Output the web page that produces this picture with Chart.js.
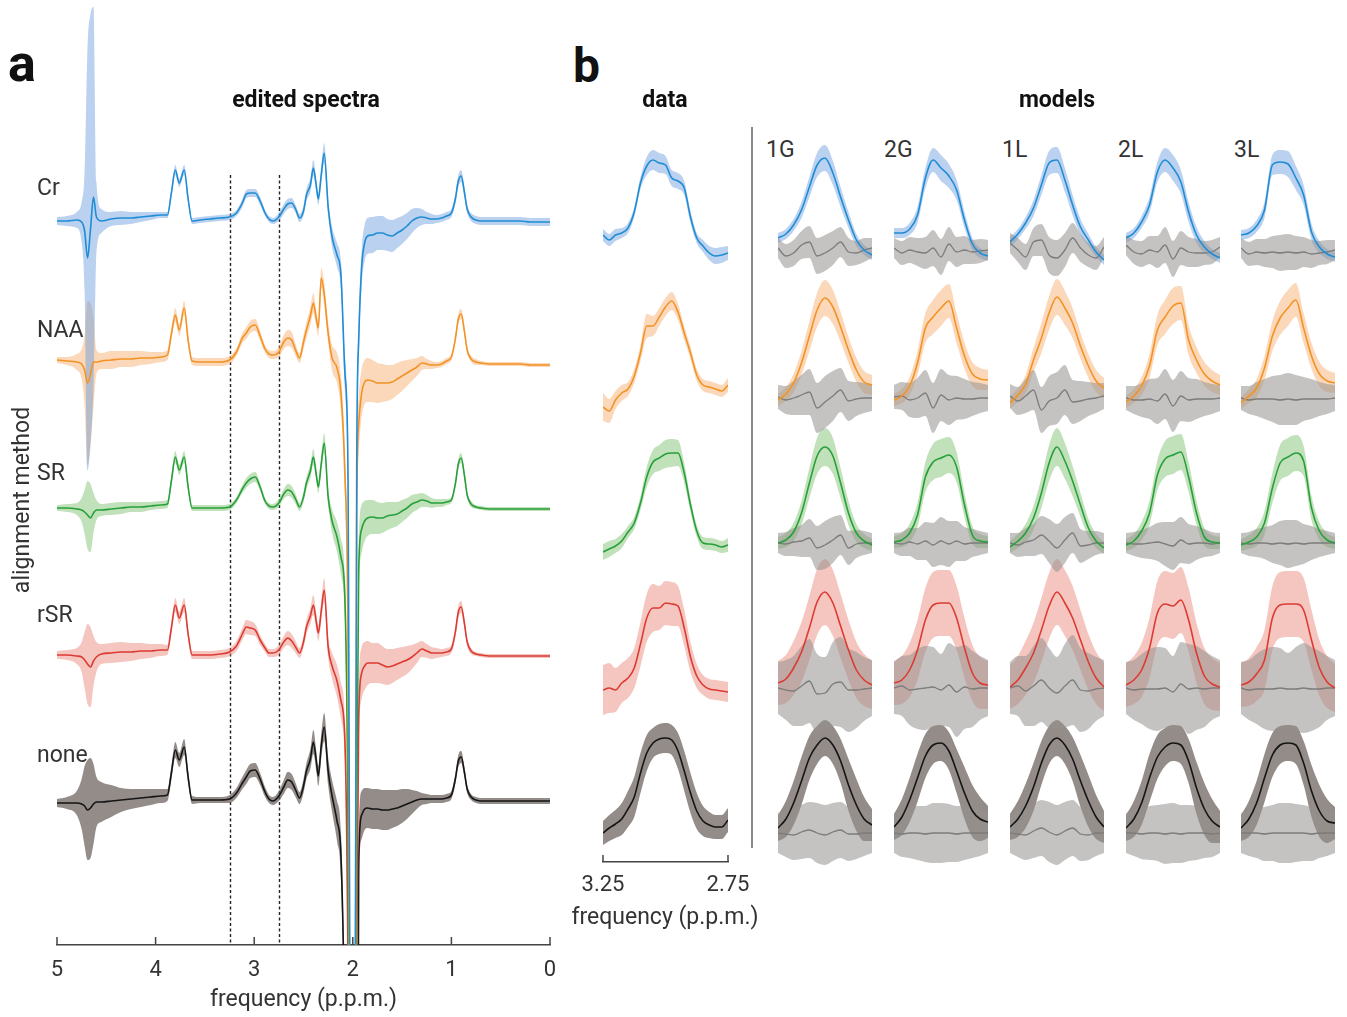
<!DOCTYPE html>
<html>
<head>
<meta charset="utf-8">
<title>edited spectra / models</title>
<script src="https://cdn.jsdelivr.net/npm/chart.js@4.4.1/dist/chart.umd.min.js"></script>
<style>
  body { margin: 0; background: #fff; font-family: Roboto, 'Noto Sans', sans-serif; color: #333; }
  #page { position: relative; width: 1347px; height: 1017px; overflow: hidden; background: #fff; }
  canvas { position: absolute; }
  .txt { position: absolute; white-space: nowrap; line-height: 1; }
  .panel { font-weight: 700; color: #111; }
  .head { font-weight: 700; font-size: 23px; color: #111; }
  .lab { font-size: 23px; color: #333; }
  .ctr { transform: translateX(-50%); }
  #sep { position: absolute; left: 751px; top: 127px; width: 2px; height: 721px; background: #8a8a8a; }
</style>
</head>
<body>
<div id="page">
  <canvas id="spectra" width="570" height="1017" style="left:0;top:0"></canvas>
  <canvas id="col-data" width="210" height="830" style="left:553px;top:110px"></canvas>
  <div id="sep"></div>

  <div class="txt panel" style="left:8px;top:38px;font-size:52px">a</div>
  <div class="txt panel" style="left:573px;top:42px;font-size:48px">b</div>
  <div class="txt head ctr" style="left:306px;top:88px">edited spectra</div>
  <div class="txt head ctr" style="left:665px;top:88px">data</div>
  <div class="txt head ctr" style="left:1057px;top:88px">models</div>
  <div class="txt lab" style="left:21px;top:500px;transform:translate(-50%,-50%) rotate(-90deg)">alignment method</div>
  <div class="txt lab ctr" style="left:665px;top:905px">frequency (p.p.m.)</div>
  <div id="rowLabels"></div>
  <div id="modelLabels"></div>
</div>

<script>
// ========== DATA: panel a (full edited spectra) ==========

const SERIES = ['Cr', 'NAA', 'SR', 'rSR', 'none'];
const MODELS = ['1G', '2G', '1L', '2L', '3L'];

// frequency grid, p.p.m.
const A_PPM = [
  5.0, 4.9, 4.8, 4.75, 4.72, 4.69, 4.66, 4.63, 4.6, 4.55,
  4.45, 4.35, 4.25, 4.15, 4.05, 3.95, 3.88, 3.84, 3.80, 3.76, 3.71, 3.67, 3.63,
  3.55, 3.45, 3.35, 3.25, 3.18, 3.12, 3.08, 3.04, 2.99, 2.94, 2.89, 2.85, 2.81,
  2.75, 2.70, 2.66, 2.62, 2.58, 2.54, 2.50, 2.47, 2.43, 2.40, 2.37, 2.35, 2.32, 2.29, 2.25, 2.21, 2.16, 2.12,
  2.08, 2.05, 2.02, 1.98, 1.96, 1.94, 1.91, 1.88, 1.85,
  1.80, 1.75, 1.70, 1.65, 1.60, 1.55, 1.50, 1.45, 1.40, 1.35, 1.30, 1.25, 1.20, 1.15, 1.10, 1.05, 1.00,
  0.96, 0.93, 0.90, 0.87, 0.84, 0.80, 0.75, 0.70, 0.60, 0.50, 0.40, 0.30, 0.20, 0.10, 0.00
];

// mean spectrum per alignment method (a.u., 0 = own baseline)
const SPEC_CR = [
  0, 0, 1, -1, -10, -37, -8, 24, 4, 0,
  2, 3, 3, 4, 5, 6, 6, 28, 51, 38, 51, 22, 0,
  1, 2, 3, 4, 8, 18, 27, 28, 28, 20, 8, 2, 0,
  4, 12, 17, 18, 12, 3, 10, 26, 36, 53, 35, 22, 46, 68, 14, -16, -34, -54,
  -152, -239, -900, -900, -239, -119, -46, -22, -15,
  -14, -12, -12, -14, -15, -12, -9, -5, 0, 3, 4, 3, 2, 2, 3, 5, 8,
  22, 40, 45, 30, 12, 4, 1, 0, 0, 0, 0, 0, -1, -1, -1
];
const SPEC_NAA = [
  4, 3, 2, 0, -6, -19, -10, 2, 2, 3,
  4, 5, 5, 6, 6, 7, 9, 30, 49, 34, 56, 24, 3,
  2, 2, 2, 4, 12, 26, 31, 37, 39, 28, 15, 10, 9,
  12, 22, 26, 24, 14, 6, 22, 34, 48, 61, 45, 36, 86, 70, 31, 6, -4, -29,
  -110, -260, -900, -900, -150, -60, -29, -18, -16,
  -17, -19, -19, -19, -18, -15, -12, -9, -6, -3, 1, 0, -1, -1, 0, 3, 7,
  25, 45, 50, 34, 14, 5, 2, 1, 0, 0, 0, 0, -1, -1, -1
];
const SPEC_SR = [
  1, 1, 0, -1, -3, -6, -9, -4, -1, -1,
  0, 1, 2, 2, 3, 4, 5, 28, 52, 39, 52, 22, 1,
  1, 1, 1, 2, 9, 20, 26, 30, 32, 22, 8, 3, 2,
  6, 15, 19, 17, 10, 2, 12, 26, 38, 52, 34, 22, 45, 66, 12, -12, -28, -48,
  -90, -300, -900, -900, -300, -60, -20, -12, -9,
  -8, -9, -9, -7, -6, -5, -2, 1, 5, 7, 9, 8, 6, 6, 6, 7, 9,
  25, 45, 51, 35, 14, 5, 2, 1, 0, 0, 0, 0, 0, 0, 0
];
const SPEC_RSR = [
  1, 1, 0, -1, -4, -8, -11, -5, -1, 2,
  3, 4, 4, 5, 5, 6, 6, 28, 51, 38, 51, 22, 1,
  1, 1, 2, 4, 10, 22, 29, 28, 26, 16, 8, 3, 3,
  6, 14, 18, 15, 9, 3, 14, 29, 40, 51, 34, 23, 45, 66, 9, -10, -25, -45,
  -85, -300, -900, -900, -300, -60, -17, -10, -7,
  -7, -7, -9, -11, -10, -8, -6, -4, -1, 3, 7, 5, 3, 3, 3, 4, 7,
  24, 44, 49, 34, 14, 5, 2, 1, 0, 0, 0, 0, 0, 0, 0
];
const SPEC_NONE = [
  -2, -2, -2, -3, -5, -9, -7, -3, -1, -1,
  0, 1, 2, 3, 4, 5, 6, 28, 51, 41, 54, 24, 1,
  1, 1, 1, 2, 8, 18, 24, 30, 31, 22, 9, 2, 0,
  5, 14, 21, 19, 11, 3, 15, 30, 42, 59, 40, 25, 55, 74, 30, 5, -20, -55,
  -250, -600, -900, -900, -700, -60, -14, -8, -7,
  -8, -8, -9, -9, -8, -7, -5, -3, -1, 1, 2, 2, 2, 2, 2, 3, 6,
  22, 40, 44, 30, 12, 4, 1, 0, 0, 0, 0, 0, 0, 0, 0
];

// half-width of the shaded spread
const SPREAD_CR = [
  4, 5, 8, 20, 60, 212, 215, 190, 35, 12,
  7, 7, 6, 5, 4, 3, 3, 4, 5, 4, 5, 4, 3,
  3, 3, 3, 3, 3, 4, 4, 4, 4, 4, 3, 3, 3,
  4, 5, 5, 5, 4, 4, 5, 6, 7, 8, 6, 6, 8, 10, 8, 10, 12, 14,
  18, 25, 30, 30, 25, 20, 18, 18, 18,
  18, 17, 17, 16, 16, 15, 14, 13, 12, 10, 8, 6, 5, 4, 4, 4, 4,
  5, 6, 6, 5, 4, 4, 4, 4, 4, 4, 4, 4, 4, 4, 4
];
const SPREAD_NAA = [
  3, 4, 8, 15, 35, 82, 71, 45, 12, 8,
  9, 8, 8, 7, 6, 5, 5, 6, 7, 6, 7, 5, 4,
  4, 4, 4, 4, 4, 5, 6, 6, 6, 5, 4, 4, 4,
  5, 7, 8, 8, 6, 5, 7, 8, 9, 10, 8, 8, 10, 12, 10, 13, 15, 18,
  22, 28, 30, 30, 30, 28, 24, 22, 22,
  21, 20, 19, 18, 17, 16, 15, 13, 11, 9, 7, 5, 4, 3, 3, 3, 3,
  4, 5, 5, 4, 3, 3, 3, 2, 2, 2, 2, 2, 2, 2, 2
];
const SPREAD_SR = [
  3, 4, 6, 12, 22, 34, 34, 20, 10, 6,
  6, 6, 5, 5, 4, 4, 4, 5, 6, 5, 6, 4, 3,
  3, 3, 3, 3, 3, 4, 5, 5, 5, 4, 3, 3, 3,
  4, 5, 6, 6, 5, 4, 5, 6, 7, 8, 6, 6, 8, 10, 8, 12, 15, 18,
  22, 28, 30, 30, 30, 28, 24, 20, 18,
  17, 16, 15, 14, 13, 12, 11, 10, 9, 8, 7, 6, 5, 4, 4, 3, 3,
  4, 5, 5, 4, 3, 3, 2, 2, 2, 2, 2, 2, 2, 2, 2
];
const SPREAD_RSR = [
  4, 5, 8, 15, 28, 40, 40, 25, 15, 10,
  10, 10, 9, 8, 7, 6, 5, 6, 7, 6, 7, 5, 4,
  4, 4, 4, 4, 5, 6, 7, 7, 6, 5, 4, 4, 4,
  5, 6, 7, 7, 6, 5, 6, 7, 8, 10, 8, 8, 10, 12, 10, 13, 16, 18,
  22, 28, 30, 30, 30, 28, 26, 24, 22,
  20, 20, 19, 18, 17, 16, 15, 14, 12, 10, 8, 7, 6, 5, 4, 4, 4,
  5, 6, 6, 5, 4, 3, 2, 2, 2, 2, 2, 2, 2, 2, 2
];
const SPREAD_NONE = [
  4, 6, 12, 25, 40, 50, 50, 40, 25, 20,
  16, 12, 10, 9, 8, 7, 6, 7, 8, 7, 8, 6, 4,
  3, 3, 3, 4, 5, 6, 7, 7, 7, 6, 5, 4, 4,
  5, 7, 8, 8, 7, 6, 7, 8, 10, 12, 10, 10, 12, 14, 14, 16, 20, 24,
  28, 30, 30, 30, 30, 30, 24, 21, 20,
  20, 20, 20, 20, 19, 18, 17, 15, 12, 9, 6, 5, 4, 4, 4, 4, 4,
  5, 6, 6, 5, 4, 3, 3, 3, 3, 3, 3, 3, 3, 3, 3
];

// vertical offset of each stacked spectrum
const A_OFFSET = [724, 581, 436, 289, 144];
const A_TICKS = [0, 1, 2, 3, 4, 5];
const WINDOW_PPM = [3.25, 2.75];
const WINDOW_TOP = 770;

// ========== DATA: panel b (3.25 - 2.75 p.p.m. window) ==========

const DATA_PPM = [3.25, 3.225, 3.2, 3.175, 3.15, 3.125, 3.1, 3.075, 3.05, 3.025, 3.0,
                  2.975, 2.95, 2.925, 2.9, 2.875, 2.85, 2.825, 2.8, 2.775, 2.75];
const MODEL_PPM = [3.25, 3.208, 3.167, 3.125, 3.083, 3.042, 3.0, 2.958, 2.917, 2.875, 2.833, 2.792, 2.75];

const DATA_B_CR   = [15, 10, 15, 17, 22, 38, 67, 84, 90, 87, 85, 72, 69, 62, 33, 12, 4, -3, -6, -5, -3];
const DATA_B_NAA  = [-9, -13, -2, 5, 9, 22, 45, 72, 72, 81, 91, 97, 86, 65, 45, 23, 13, 11, 9, 7, 13];
const DATA_B_SR   = [-9, -6, -3, 2, 11, 20, 40, 66, 81, 85, 89, 90, 90, 70, 38, 12, 0, -1, -2, -4, -2];
const DATA_B_RSR  = [-2, 0, -2, 5, 10, 20, 44, 70, 80, 80, 85, 84, 82, 60, 31, 12, 3, -1, -2, -3, -4];
const DATA_B_NONE = [0, 5, 9, 14, 24, 36, 60, 80, 90, 94, 95, 93, 82, 62, 40, 22, 12, 8, 6, 6, 13];

const DSPREAD_CR   = [6, 6, 6, 5, 5, 5, 6, 9, 10, 10, 9, 8, 8, 7, 6, 5, 6, 7, 8, 8, 7];
const DSPREAD_NAA  = [14, 12, 9, 8, 7, 7, 8, 12, 10, 9, 9, 9, 8, 7, 6, 6, 6, 6, 6, 6, 7];
const DSPREAD_SR   = [8, 8, 7, 7, 6, 6, 7, 10, 12, 13, 14, 14, 13, 10, 7, 6, 6, 6, 6, 6, 7];
const DSPREAD_RSR  = [25, 25, 22, 20, 20, 20, 22, 24, 24, 22, 22, 22, 20, 18, 15, 12, 10, 10, 10, 10, 10];
const DSPREAD_NONE = [12, 13, 14, 16, 18, 20, 20, 18, 15, 15, 15, 15, 18, 20, 20, 18, 15, 13, 12, 12, 12];

// model fits, one list per model (1G, 2G, 1L, 2L, 3L)
const FIT_CR = [
  [12, 16, 25, 40, 63, 85, 92, 77, 53, 30, 10, 0, -5],
  [17, 17, 21, 35, 72, 90, 82, 74, 60, 30, 6, -3, -6],
  [8, 16, 27, 42, 65, 87, 90, 70, 45, 23, 10, -2, -10],
  [12, 17, 28, 45, 78, 90, 82, 68, 38, 15, 3, -4, -8],
  [15, 17, 24, 40, 85, 88, 86, 72, 55, 18, 3, -4, -7]
];
const FIT_NAA = [
  [-2, 4, 15, 35, 62, 88, 100, 91, 71, 48, 28, 16, 13],
  [-2, 2, 12, 35, 70, 81, 90, 97, 70, 42, 24, 19, 18],
  [-5, 3, 14, 38, 60, 85, 101, 90, 75, 52, 32, 17, 10],
  [-4, 2, 12, 32, 68, 81, 92, 95, 58, 38, 24, 17, 13],
  [-5, 2, 10, 30, 62, 80, 90, 98, 70, 42, 24, 17, 15]
];
const FIT_SR = [
  [0, 3, 11, 30, 60, 87, 96, 87, 60, 30, 10, 2, -2],
  [1, 3, 10, 28, 66, 81, 85, 88, 76, 38, 8, 2, 1],
  [-4, 2, 10, 25, 50, 80, 96, 82, 62, 38, 15, 2, -5],
  [-2, 2, 12, 30, 68, 84, 88, 91, 66, 30, 6, 1, 0],
  [-2, 1, 6, 20, 55, 80, 86, 90, 82, 35, 12, 3, 0]
];
const FIT_RSR = [
  [5, 9, 20, 36, 60, 86, 96, 85, 62, 38, 18, 8, 3],
  [5, 8, 18, 38, 68, 83, 85, 85, 70, 40, 15, 5, 3],
  [1, 8, 20, 35, 58, 82, 96, 85, 70, 48, 26, 10, 1],
  [3, 8, 18, 40, 75, 84, 82, 88, 68, 35, 12, 4, 1],
  [3, 6, 14, 28, 70, 83, 84, 84, 78, 48, 20, 6, 0]
];
const FIT_NONE = [
  [5, 14, 30, 52, 75, 88, 95, 88, 72, 48, 28, 14, 8],
  [6, 16, 33, 55, 77, 88, 90, 82, 62, 40, 22, 14, 11],
  [6, 14, 27, 46, 70, 88, 95, 88, 74, 52, 32, 16, 6],
  [5, 14, 30, 55, 76, 86, 90, 88, 72, 45, 24, 12, 6],
  [5, 14, 30, 55, 78, 88, 90, 88, 70, 42, 22, 12, 10]
];

// residuals (data - fit)
const RES_CR = [
  [2, -6, -3, 5, 8, -6, -3, 2, 8, -2, -3, 0, 2],
  [2, -3, 0, -2, -3, 2, -7, 6, -2, 0, -2, -1, 0],
  [7, 0, -7, 8, 10, -5, -8, 0, 12, 2, -5, -8, 3],
  [5, -2, -4, 0, -2, 5, -9, 2, -2, -3, -3, -2, 3],
  [2, -4, -2, -3, -2, -3, -2, -3, -2, -4, -3, -2, 0]
];
const RES_NAA = [
  [1, -2, 0, 3, 6, -10, -4, 2, 8, -3, -1, 0, 0],
  [1, 2, -2, 0, 5, -10, 3, -2, 0, -1, -1, 0, 0],
  [2, -3, 2, 8, -12, -3, 0, 8, -4, -3, -1, 0, 2],
  [0, -2, -2, -1, -3, 4, -8, 2, -2, -1, -1, -1, 0],
  [0, -2, -1, -1, -1, -2, -1, -2, -1, -1, -1, -1, 0]
];
const RES_SR = [
  [0, -1, 1, 2, 5, -5, -2, 3, 8, -5, -1, 0, 0],
  [0, -1, 1, -1, 2, -2, 2, -1, 2, -1, 0, 0, 0],
  [0, -2, 1, 3, 8, 2, -5, 3, 10, -3, -2, 0, 0],
  [0, -1, -1, 0, 1, -1, -3, 3, -1, 0, 0, -1, 0],
  [0, -1, 0, 0, -1, 0, -1, 0, -1, 0, 0, 0, 0]
];
const RES_RSR = [
  [0, -2, -3, 2, 7, -6, -5, 4, 6, -2, -2, -1, 0],
  [0, 2, -2, -1, 0, 1, -2, 3, -4, 1, -1, 0, 0],
  [0, 2, -3, 2, 8, 0, -5, 2, 8, -2, -3, -1, 0],
  [0, -2, -1, -1, -1, 0, -4, 4, -1, 0, -1, 0, 0],
  [0, -2, -1, -1, -1, 0, -1, -1, 0, -1, -1, 0, 0]
];
const RES_NONE = [
  [0, -1, -2, 1, 3, 0, -2, 1, 3, -1, -1, 0, 0],
  [0, -1, 0, 0, -1, 0, 0, 0, -1, 0, 0, 0, 0],
  [0, -1, -2, 2, 5, 1, -2, 2, 5, -1, -2, 0, 0],
  [0, 0, -1, 0, 0, -1, 0, -1, 0, 0, 0, -1, 0],
  [0, 0, 0, -1, 0, 0, 0, 0, 0, -1, 0, 0, 0]
];

// spread of fits and residuals across subjects, per row
const FIT_SPREAD_CR   = [5, 5, 6, 8, 10, 12, 13, 12, 10, 8, 6, 5, 5];
const FIT_SPREAD_NAA  = [6, 7, 9, 12, 15, 17, 18, 17, 15, 13, 12, 11, 10];
const FIT_SPREAD_SR   = [6, 7, 9, 12, 15, 18, 19, 18, 15, 12, 9, 7, 6];
const FIT_SPREAD_RSR  = [22, 24, 27, 30, 32, 33, 33, 33, 32, 30, 28, 26, 24];
const FIT_SPREAD_NONE = [13, 18, 22, 24, 22, 19, 18, 19, 22, 26, 26, 22, 16];

const RES_SPREAD_CR   = [10, 12, 13, 14, 16, 18, 18, 17, 15, 14, 12, 12, 10];
const RES_SPREAD_NAA  = [12, 14, 17, 20, 23, 25, 26, 25, 22, 20, 17, 15, 13];
const RES_SPREAD_SR   = [10, 12, 14, 16, 19, 22, 24, 23, 20, 17, 14, 12, 10];
const RES_SPREAD_RSR  = [26, 30, 35, 40, 42, 40, 36, 42, 45, 42, 38, 32, 28];
const RES_SPREAD_NONE = [20, 23, 25, 27, 28, 30, 30, 29, 28, 27, 25, 23, 20];

const B_OFFSET = [612, 464, 319, 174, 29];

// ========== STYLE ==========

const LINE_COLORS = ['#1f8dd6', '#f39325', '#27a03a', '#dc3b33', '#151515'];
const BAND_COLORS = ['rgba(110,158,222,0.48)', 'rgba(248,178,115,0.5)', 'rgba(125,192,112,0.48)',
                     'rgba(232,128,112,0.45)', 'rgba(105,95,90,0.72)'];
const RES_LINE = '#7c7c7c';
const RES_BAND = 'rgba(150,145,142,0.55)';

const MODEL_LEFT = [778, 894, 1010, 1126, 1241];
const MODEL_WIDTH = 94;
const ROW_LABEL_TOP = [176, 318, 461, 603, 743];
const MODEL_LABEL_LEFT = [766, 884, 1002, 1118, 1234];

Chart.defaults.font.family = "Roboto, 'Noto Sans', sans-serif";
Chart.defaults.color = '#333';

const SPEC = [SPEC_CR, SPEC_NAA, SPEC_SR, SPEC_RSR, SPEC_NONE];
const SPREAD = [SPREAD_CR, SPREAD_NAA, SPREAD_SR, SPREAD_RSR, SPREAD_NONE];
const DATA_B = [DATA_B_CR, DATA_B_NAA, DATA_B_SR, DATA_B_RSR, DATA_B_NONE];
const DSPREAD = [DSPREAD_CR, DSPREAD_NAA, DSPREAD_SR, DSPREAD_RSR, DSPREAD_NONE];
const FIT = [FIT_CR, FIT_NAA, FIT_SR, FIT_RSR, FIT_NONE];
const RES = [RES_CR, RES_NAA, RES_SR, RES_RSR, RES_NONE];
const FIT_SPREAD = [FIT_SPREAD_CR, FIT_SPREAD_NAA, FIT_SPREAD_SR, FIT_SPREAD_RSR, FIT_SPREAD_NONE];
const RES_SPREAD = [RES_SPREAD_CR, RES_SPREAD_NAA, RES_SPREAD_SR, RES_SPREAD_RSR, RES_SPREAD_NONE];

// ========== PLUGINS ==========

// tick marks pointing up from the axis line
const upTicks = {
  id: 'upTicks',
  afterDraw(chart, args, opts) {
    const x = chart.scales.x;
    if (!x || !opts.len) return;
    const ctx = chart.ctx;
    ctx.save();
    ctx.strokeStyle = '#444';
    ctx.lineWidth = 1.5;
    x.ticks.forEach(t => {
      const px = x.getPixelForValue(t.value);
      ctx.beginPath();
      ctx.moveTo(px, x.top);
      ctx.lineTo(px, x.top - opts.len);
      ctx.stroke();
    });
    ctx.restore();
  }
};

// dashed lines marking the window shown in panel b
const windowLines = {
  id: 'windowLines',
  beforeDatasetsDraw(chart, args, opts) {
    const { x, y } = chart.scales;
    const ctx = chart.ctx;
    ctx.save();
    ctx.strokeStyle = '#222';
    ctx.lineWidth = 1.4;
    ctx.setLineDash([3, 2.5]);
    opts.ppm.forEach(v => {
      const px = Math.round(x.getPixelForValue(v)) + 0.5;
      ctx.beginPath();
      ctx.moveTo(px, y.getPixelForValue(opts.top));
      ctx.lineTo(px, chart.chartArea.bottom);
      ctx.stroke();
    });
    ctx.restore();
  }
};

// ========== HELPERS ==========

function pts(xs, vals, base, sign, spread) {
  return xs.map((x, k) => ({ x, y: base + vals[k] + sign * (spread ? spread[k] : 0) }));
}

function bandSets(xs, vals, spread, base, color, order) {
  return [
    { data: pts(xs, vals, base, 1, spread), fill: '+1', backgroundColor: color, borderColor: 'transparent',
      borderWidth: 0, pointRadius: 0, order, cubicInterpolationMode: 'monotone' },
    { data: pts(xs, vals, base, -1, spread), fill: false, borderColor: 'transparent',
      borderWidth: 0, pointRadius: 0, order, cubicInterpolationMode: 'monotone' }
  ];
}

function lineSet(xs, vals, base, color, width, order) {
  return { data: pts(xs, vals, base, 0), borderColor: color, borderWidth: width, fill: false,
           pointRadius: 0, order, cubicInterpolationMode: 'monotone' };
}

function baseOptions(extra) {
  return Object.assign({
    responsive: false,
    animation: false,
    devicePixelRatio: 1,
    events: [],
    plugins: { legend: { display: false }, tooltip: { enabled: false } }
  }, extra);
}

// ========== PANEL A ==========

function renderSpectra() {
  const sets = [];
  SERIES.forEach((s, i) => sets.push(...bandSets(A_PPM, SPEC[i], SPREAD[i], A_OFFSET[i], BAND_COLORS[i], 2)));
  SERIES.forEach((s, i) => sets.push(lineSet(A_PPM, SPEC[i], A_OFFSET[i], LINE_COLORS[i], 1.6, 1)));

  const opts = baseOptions({
    layout: { padding: { left: 57, right: 20, top: 0, bottom: 0 } },
    scales: {
      x: {
        type: 'linear', min: 0, max: 5, reverse: true,
        afterBuildTicks: s => { s.ticks = A_TICKS.map(v => ({ value: v })); },
        ticks: { padding: 12, font: { size: 22 }, color: '#333', maxRotation: 0 },
        grid: { display: false, drawTicks: false },
        border: { display: true, color: '#444', width: 1.5 },
        title: { display: true, text: 'frequency (p.p.m.)', font: { size: 23 }, color: '#333',
                 padding: { top: 0, bottom: 3 } },
        afterFit: s => { s.height = 72; s.paddingLeft = 0; s.paddingRight = 0; }
      },
      y: { display: false, min: 0, max: 945 }
    }
  });
  opts.plugins.upTicks = { len: 8 };
  opts.plugins.windowLines = { ppm: WINDOW_PPM, top: WINDOW_TOP };

  new Chart(document.getElementById('spectra'), {
    type: 'line', data: { datasets: sets }, options: opts, plugins: [upTicks, windowLines]
  });
}

// ========== PANEL B ==========

function renderDataColumn() {
  const sets = [];
  SERIES.forEach((s, i) => sets.push(...bandSets(DATA_PPM, DATA_B[i], DSPREAD[i], B_OFFSET[i], BAND_COLORS[i], 2)));
  SERIES.forEach((s, i) => sets.push(lineSet(DATA_PPM, DATA_B[i], B_OFFSET[i], LINE_COLORS[i], 1.6, 1)));

  const opts = baseOptions({
    layout: { padding: { left: 50, right: 35, top: 0, bottom: 0 } },
    scales: {
      x: {
        type: 'linear', min: 2.75, max: 3.25, reverse: true,
        afterBuildTicks: s => { s.ticks = WINDOW_PPM.map(v => ({ value: v })); },
        ticks: { padding: 10, font: { size: 22 }, color: '#333', maxRotation: 0, callback: v => v.toFixed(2) },
        grid: { display: false, drawTicks: false },
        border: { display: true, color: '#444', width: 1.5 },
        afterFit: s => { s.height = 78; s.paddingLeft = 0; s.paddingRight = 0; }
      },
      y: { display: false, min: 0, max: 752 }
    }
  });
  opts.plugins.upTicks = { len: 7 };

  new Chart(document.getElementById('col-data'), {
    type: 'line', data: { datasets: sets }, options: opts, plugins: [upTicks]
  });
}

function renderModelColumn(m) {
  const canvas = document.createElement('canvas');
  canvas.width = MODEL_WIDTH;
  canvas.height = 830;
  canvas.style.left = MODEL_LEFT[m] + 'px';
  canvas.style.top = '110px';
  document.getElementById('page').appendChild(canvas);

  const sets = [];
  SERIES.forEach((s, i) => {
    sets.push(...bandSets(MODEL_PPM, FIT[i][m], FIT_SPREAD[i], B_OFFSET[i], BAND_COLORS[i], 4));
    sets.push(...bandSets(MODEL_PPM, RES[i][m], RES_SPREAD[i], B_OFFSET[i], RES_BAND, 3));
    sets.push(lineSet(MODEL_PPM, RES[i][m], B_OFFSET[i], RES_LINE, 1.3, 2));
    sets.push(lineSet(MODEL_PPM, FIT[i][m], B_OFFSET[i], LINE_COLORS[i], 1.6, 1));
  });

  new Chart(canvas, {
    type: 'line',
    data: { datasets: sets },
    options: baseOptions({
      layout: { padding: { left: 0, right: 0, top: 0, bottom: 60 } },
      scales: {
        x: { type: 'linear', display: false, min: 2.75, max: 3.25, reverse: true },
        y: { display: false, min: -18, max: 752 }
      }
    })
  });
}

function renderLabels() {
  document.getElementById('rowLabels').innerHTML = SERIES.map((s, i) =>
    `<div class="txt lab" style="left:37px;top:${ROW_LABEL_TOP[i]}px">${s}</div>`).join('');
  document.getElementById('modelLabels').innerHTML = MODELS.map((s, i) =>
    `<div class="txt lab" style="left:${MODEL_LABEL_LEFT[i]}px;top:138px">${s}</div>`).join('');
}

// ========== INIT ==========

renderLabels();
renderSpectra();
renderDataColumn();
MODELS.forEach((m, j) => renderModelColumn(j));
</script>
</body>
</html>
